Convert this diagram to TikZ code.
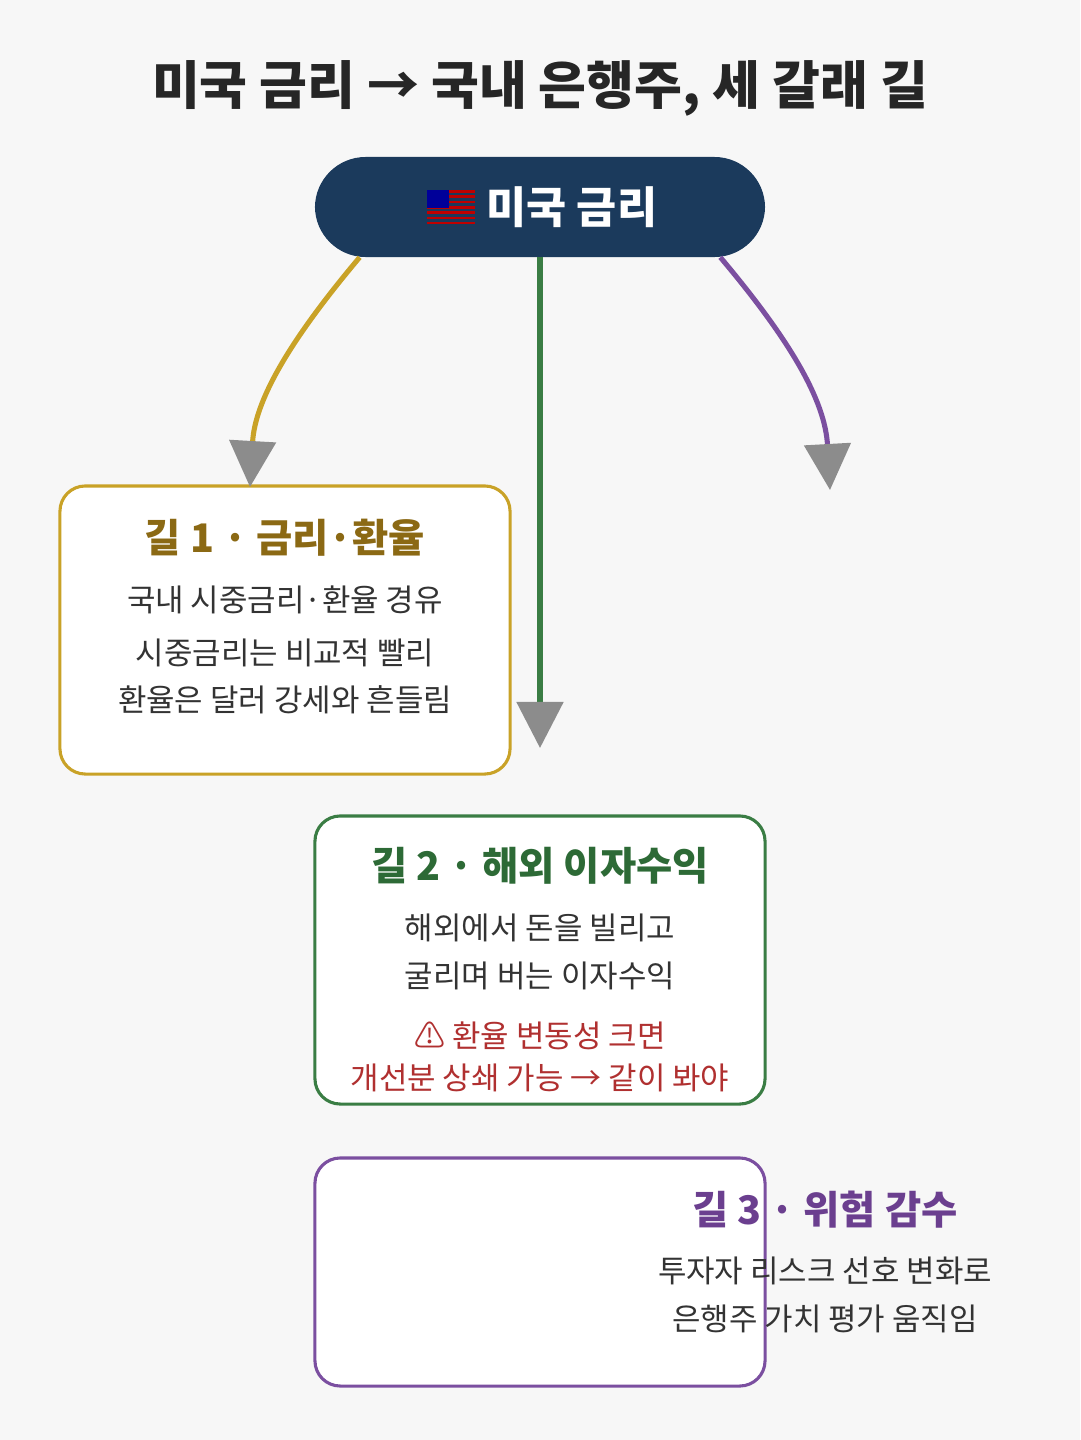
\documentclass[tikz,border=0pt]{standalone}
\usepackage{fontspec}
\setmainfont{Noto Sans CJK KR}
\usetikzlibrary{positioning}
\usetikzlibrary{arrows.meta}
\definecolor{navy}{HTML}{1B3A5C}
\definecolor{gold}{HTML}{C9A227}
\definecolor{goldtxt}{HTML}{8B6914}
\definecolor{grn}{HTML}{3A7D44}
\definecolor{grntxt}{HTML}{2D6A36}
\definecolor{purp}{HTML}{7B4FA0}
\definecolor{purptxt}{HTML}{6B3F8F}
\definecolor{warn}{HTML}{B03030}
\definecolor{body}{HTML}{333333}
\tikzset{
  box/.style={draw, line width=2.2pt, rounded corners=18pt, fill=white, minimum width=11.25cm, minimum height=#1},
  ttl/.style={font=\fontsize{28}{32}\selectfont\bfseries},
  txt/.style={font=\fontsize{22}{26}\selectfont, text=body},
  path/.style={line width=3.6pt, -{Triangle[width=1.15cm,length=1.15cm,color=gray!90]}},
}
\begin{document}
\begin{tikzpicture}[x=0.025cm,y=-0.025cm]
\fill[white!97!black] (0,0) rectangle (1080,1440);
\node[font=\fontsize{37}{40}\selectfont\bfseries, text=black!85] (title) at (540,88) {미국 금리 → 국내 은행주, 세 갈래 길};
% top rate node
\node[fill=navy, rounded corners=36pt, minimum width=11.25cm, minimum height=2.5cm] (US) at (540,207) {};
\node[font=\fontsize{31}{34}\selectfont\bfseries, text=white] (UStxt) at (572,207) {미국 금리};
\begin{scope}[shift={(427,190)}]
  \foreach \i in {0,...,6} {\fill[red!75!black] (0,\i*5.3) rectangle (48,\i*5.3+2.6);}
  \fill[blue!60!black] (0,0) rectangle (22,18);
\end{scope}
% three paths
\node[box=7.2cm, draw=gold] (P1) at (285,630) {};
\node[ttl, text=goldtxt] (P1t) at (285,538) {길 1 · 금리·환율};
\node[txt] (P1a) at (285,600) {국내 시중금리·환율 경유};
\node[txt] (P1b) at (285,653) {시중금리는 비교적 빨리};
\node[txt] (P1c) at (285,700) {환율은 달러 강세와 흔들림};
\node[box=7.2cm, draw=grn] (P2) at (540,960) {};
\node[ttl, text=grntxt] (P2t) at (540,866) {길 2 · 해외 이자수익};
\node[txt] (P2a) at (540,928) {해외에서 돈을 빌리고};
\node[txt] (P2b) at (540,976) {굴리며 버는 이자수익};
\node[txt, text=warn] (P2c) at (540,1036) {⚠ 환율 변동성 크면};
\node[txt, text=warn] (P2d) at (540,1078) {개선분 상쇄 가능 → 같이 봐야};
\node[box=5.7cm, draw=purp] (P3) at (540,1272) {};
\node[ttl, text=purptxt] (P3t) at (825,1210) {길 3 · 위험 감수};
\node[txt] (P3a) at (825,1271) {투자자 리스크 선호 변화로};
\node[txt] (P3b) at (825,1319) {은행주 가치 평가 움직임};
% connectors
\coordinate (e1) at (250,487);
\coordinate (e2) at (540,748);
\coordinate (e3) at (830,490);
\draw[path, gold] (US.south west) ++(45,0) .. controls (290,340) and (255,400) .. (e1);
\draw[path, grn] (US.south) -- (e2);
\draw[path, purp] (US.south east) ++(-45,0) .. controls (790,340) and (825,400) .. (e3);
\end{tikzpicture}
\end{document}
